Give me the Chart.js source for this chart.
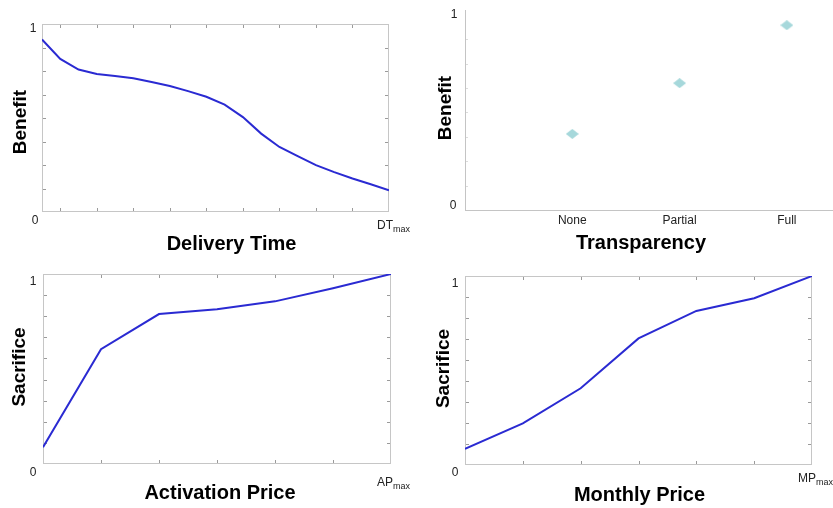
<!DOCTYPE html>
<html>
<head>
<meta charset="utf-8">
<script src="https://cdn.jsdelivr.net/npm/chart.js@4.4.1/dist/chart.umd.min.js"></script>
<style>
  body { margin: 0; background: #fff; width: 833px; height: 508px; position: relative; overflow: hidden; }
  canvas { position: absolute; }
</style>
</head>
<body>
<canvas id="delivery" width="416" height="254" style="left:0;top:0"></canvas>
<canvas id="transparency" width="417" height="254" style="left:416px;top:0"></canvas>
<canvas id="activation" width="416" height="254" style="left:0;top:254px"></canvas>
<canvas id="monthly" width="417" height="254" style="left:416px;top:254px"></canvas>
<script>
// Данные графиков
const deliveryX = [0, 1, 2, 3, 4, 5, 6, 7, 8, 9, 10, 11, 12, 13, 14, 15, 16, 17, 18, 19];
const deliveryBenefit = [0.918, 0.814, 0.758, 0.734, 0.723, 0.711, 0.691, 0.670, 0.643, 0.613,
  0.571, 0.505, 0.417, 0.346, 0.297, 0.249, 0.212, 0.178, 0.148, 0.116];
const deliveryTickX = [1, 3, 5, 7, 9, 11, 13, 15, 17];
const eighthTicks = [0.125, 0.25, 0.375, 0.5, 0.625, 0.75, 0.875];

const transparencyLabels = ['None', 'Partial', 'Full'];
const transparencyBenefit = [0.39, 0.65, 0.947];

const priceX = [0, 1, 2, 3, 4, 5, 6];
const activationSacrifice = [0.088, 0.604, 0.789, 0.814, 0.856, 0.925, 1];
const monthlySacrifice = [0.085, 0.22, 0.406, 0.67, 0.815, 0.882, 1];
const ninthTicks = [1, 2, 3, 4, 5, 6, 7, 8].map((i) => i / 9);
const priceTickX = [1, 2, 3, 4, 5];

const FONT = '"Liberation Sans", Arial, sans-serif';
const LINE_COLOR = '#2a2ad2';
const TEXT_COLOR = '#222';

// Ромбик-маркер (чуть сплюснутый, как в оригинале)
function makeDiamond(w, h, color) {
  const c = document.createElement('canvas');
  c.width = w;
  c.height = h;
  const g = c.getContext('2d');
  g.fillStyle = color;
  g.beginPath();
  g.moveTo(w / 2, 0);
  g.lineTo(w, h / 2);
  g.lineTo(w / 2, h);
  g.lineTo(0, h / 2);
  g.closePath();
  g.fill();
  return c;
}

// Рамка, внутренние засечки и подписи
const sketchPlugin = {
  id: 'sketch',
  beforeDatasetsDraw(chart, args, opts) {
    const { ctx, chartArea: a, scales: { x, y } } = chart;
    const len = opts.tickLen || 3;
    ctx.save();
    ctx.lineWidth = 1;
    if (opts.frame) {
      ctx.strokeStyle = '#c6c6c6';
      ctx.strokeRect(Math.round(a.left) + 0.5, Math.round(a.top) + 0.5,
        Math.round(a.width) - 1, Math.round(a.height) - 1);
    }
    ctx.strokeStyle = opts.tickColor || '#9a9a9a';
    ctx.beginPath();
    if (opts.frame) {
      x.ticks.forEach((t) => {
        const px = Math.round(x.getPixelForValue(t.value)) + 0.5;
        ctx.moveTo(px, a.bottom - 1);
        ctx.lineTo(px, a.bottom - 1 - len);
        ctx.moveTo(px, a.top + 1);
        ctx.lineTo(px, a.top + 1 + len);
      });
    }
    y.ticks.forEach((t) => {
      const py = Math.round(y.getPixelForValue(t.value)) + 0.5;
      ctx.moveTo(a.left + 1, py);
      ctx.lineTo(a.left + 1 + len, py);
      if (opts.frame) {
        ctx.moveTo(a.right - 1, py);
        ctx.lineTo(a.right - 1 - len, py);
      }
    });
    ctx.stroke();
    ctx.restore();
  },
  afterDraw(chart, args, opts) {
    const { ctx, chartArea: a } = chart;
    ctx.save();
    ctx.fillStyle = TEXT_COLOR;
    ctx.textBaseline = 'middle';
    ctx.textAlign = 'center';
    ctx.font = '12px ' + FONT;
    if (opts.zero) ctx.fillText('0', a.left + opts.zero[0], a.bottom + opts.zero[1]);
    if (opts.one) ctx.fillText('1', a.left + opts.one[0], a.top + opts.one[1]);
    if (opts.max) {
      const m = opts.max;
      ctx.textAlign = 'left';
      ctx.font = '12px ' + FONT;
      const x0 = a.right + m.dx;
      const y0 = a.bottom + m.dy;
      ctx.fillText(m.main, x0, y0);
      const w = ctx.measureText(m.main).width;
      ctx.font = '9px ' + FONT;
      ctx.fillText(m.sub, x0 + w, y0 + 4);
    }
    ctx.fillStyle = '#000';
    ctx.font = 'bold 20px ' + FONT;
    ctx.textAlign = 'center';
    if (opts.xTitle) {
      const t = opts.xTitle;
      ctx.fillText(t.text, (a.left + a.right) / 2 + t.dx, a.bottom + t.dy);
    }
    if (opts.yTitle) {
      const t = opts.yTitle;
      ctx.font = 'bold 19px ' + FONT;
      ctx.translate(t.x, (a.top + a.bottom) / 2 + t.dy);
      ctx.rotate(-Math.PI / 2);
      ctx.fillText(t.text, 0, 0);
    }
    ctx.restore();
  },
};

// Общая заготовка для линейных графиков
function lineChart(id, xs, ys, box, xTicks, yTicks, xMax, sketch) {
  const canvas = document.getElementById(id);
  return new Chart(canvas, {
    type: 'line',
    data: {
      datasets: [{
        data: xs.map((x, i) => ({ x, y: ys[i] })),
        borderColor: LINE_COLOR,
        borderWidth: 2,
        pointRadius: 0,
        tension: 0,
      }],
    },
    options: {
      responsive: false,
      animation: false,
      layout: { autoPadding: false, padding: { top: box.top, right: canvas.width - box.right, left: 0, bottom: 0 } },
      plugins: { legend: { display: false }, tooltip: { enabled: false }, sketch },
      scales: {
        x: {
          type: 'linear',
          min: 0,
          max: xMax,
          afterFit: (s) => { s.height = canvas.height - box.bottom; },
          afterBuildTicks: (s) => { s.ticks = xTicks.map((v) => ({ value: v })); },
          ticks: { display: false },
          grid: { display: false },
          border: { display: false },
        },
        y: {
          min: 0,
          max: 1,
          afterFit: (s) => { s.width = box.left; },
          afterBuildTicks: (s) => { s.ticks = yTicks.map((v) => ({ value: v })); },
          ticks: { display: false },
          grid: { display: false },
          border: { display: false },
        },
      },
    },
    plugins: [sketchPlugin],
  });
}

lineChart('delivery', deliveryX, deliveryBenefit,
  { left: 42, right: 389, top: 24, bottom: 212 }, deliveryTickX, eighthTicks, 19, {
    frame: true,
    zero: [-7, 9], one: [-9, 5],
    max: { main: 'DT', sub: 'max', dx: -12, dy: 14 },
    xTitle: { text: 'Delivery Time', dx: 16, dy: 32 },
    yTitle: { text: 'Benefit', x: 21, dy: 4 },
  });

lineChart('activation', priceX, activationSacrifice,
  { left: 43, right: 391, top: 20, bottom: 210 }, priceTickX, ninthTicks, 6, {
    frame: true,
    zero: [-10, 9], one: [-10, 8],
    max: { main: 'AP', sub: 'max', dx: -14, dy: 19 },
    xTitle: { text: 'Activation Price', dx: 3, dy: 29 },
    yTitle: { text: 'Sacrifice', x: 20, dy: -2 },
  });

lineChart('monthly', priceX, monthlySacrifice,
  { left: 49, right: 396, top: 22, bottom: 211 }, priceTickX, ninthTicks, 6, {
    frame: true,
    zero: [-10, 8], one: [-10, 8],
    max: { main: 'MP', sub: 'max', dx: -14, dy: 14 },
    xTitle: { text: 'Monthly Price', dx: 1, dy: 30 },
    yTitle: { text: 'Sacrifice', x: 28, dy: -2 },
  });

// Прозрачность: три точки-ромба
(function () {
  const canvas = document.getElementById('transparency');
  const box = { left: 49, right: 417, top: 10, bottom: 210 };
  new Chart(canvas, {
    type: 'scatter',
    data: {
      datasets: [{
        data: transparencyBenefit.map((v, i) => ({ x: i + 1, y: v })),
        pointStyle: makeDiamond(13, 10, '#a6d8db'),
        pointRadius: 6,
      }],
    },
    options: {
      responsive: false,
      animation: false,
      layout: { autoPadding: false, padding: { top: box.top, right: canvas.width - box.right, left: 0, bottom: 0 } },
      plugins: {
        legend: { display: false },
        tooltip: { enabled: false },
        sketch: {
          tickColor: '#dcdcdc',
          tickLen: 2,
          zero: [-12, -4], one: [-11, 5],
          xTitle: { text: 'Transparency', dx: -8, dy: 33 },
          yTitle: { text: 'Benefit', x: 30, dy: -2 },
        },
      },
      scales: {
        x: {
          type: 'linear',
          min: 0,
          max: 3.43,
          afterFit: (s) => { s.height = canvas.height - box.bottom; },
          afterBuildTicks: (s) => { s.ticks = transparencyLabels.map((_, i) => ({ value: i + 1 })); },
          ticks: {
            padding: 3,
            color: TEXT_COLOR,
            font: { family: FONT, size: 12 },
            callback: (value) => transparencyLabels[value - 1] || '',
          },
          grid: { display: false, drawTicks: false },
          border: { display: true, color: '#c4c4c4' },
        },
        y: {
          min: 0,
          max: 1.025,
          afterFit: (s) => { s.width = box.left; },
          afterBuildTicks: (s) => { s.ticks = eighthTicks.map((v) => ({ value: v })); },
          ticks: { display: false },
          grid: { display: false, drawTicks: false },
          border: { display: true, color: '#c4c4c4' },
        },
      },
    },
    plugins: [sketchPlugin],
  });
})();
</script>
</body>
</html>
